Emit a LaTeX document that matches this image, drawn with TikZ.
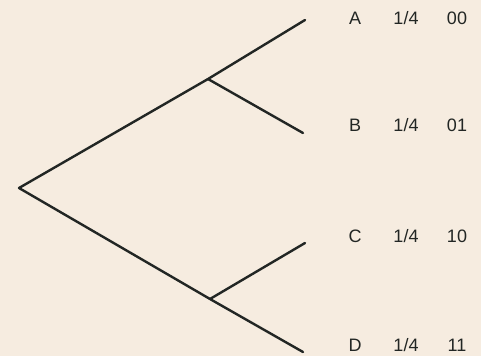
\documentclass[tikz,border=0pt]{standalone}
\usepackage{fontspec}
\setmainfont{Liberation Sans}
\definecolor{paper}{RGB}{246,236,224}
\definecolor{ink}{RGB}{34,38,36}
\begin{document}
\begin{tikzpicture}[x=1pt,y=-1pt,
  branch/.style={draw=ink,line width=2.4pt,line cap=round,line join=round},
  lbl/.style={text=ink,font=\fontsize{18}{20}\selectfont,inner sep=0pt,anchor=center}]
\fill[paper] (0,0) rectangle (481,356);
\useasboundingbox (0,0) rectangle (481,356);
\coordinate (r) at (19,188);
\coordinate (u) at (208,79);
\coordinate (l) at (210,299);
\coordinate (a) at (305,20);
\coordinate (b) at (303,133);
\coordinate (c) at (305,243);
\coordinate (d) at (303,352);
\draw[branch] (r) -- (u) -- (a);
\draw[branch] (u) -- (b);
\draw[branch] (r) -- (l) -- (d);
\draw[branch] (l) -- (c);
\node[lbl] (A) at (355,18) {A};
\node[lbl] (pA) at (406,18) {1/4};
\node[lbl] (cA) at (457,18) {00};
\node[lbl] (B) at (355,125) {B};
\node[lbl] (pB) at (406,125) {1/4};
\node[lbl] (cB) at (457,125) {01};
\node[lbl] (C) at (355,236) {C};
\node[lbl] (pC) at (406,236) {1/4};
\node[lbl] (cC) at (457,236) {10};
\node[lbl] (D) at (355,345) {D};
\node[lbl] (pD) at (406,345) {1/4};
\node[lbl] (cD) at (457,345) {11};
\end{tikzpicture}
\end{document}
